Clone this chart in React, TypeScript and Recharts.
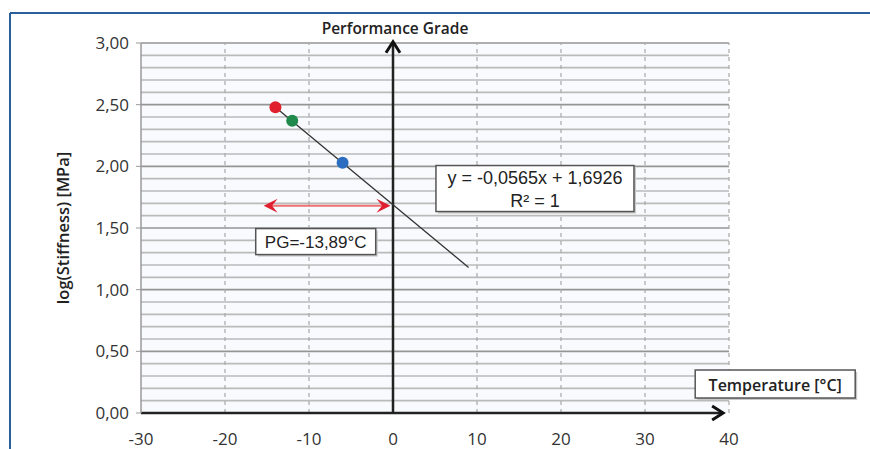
import {
  ComposedChart,
  Scatter,
  Line,
  XAxis,
  YAxis,
  CartesianGrid,
  ReferenceLine,
  ReferenceDot,
  Cell,
} from 'recharts';

// x axis: temperature [°C]
const xTicks = [-30, -20, -10, 0, 10, 20, 30, 40];
const xDashed = [-20, -10, 10, 20, 30, 40];
// y axis: log(stiffness) [MPa]
const yTicks = [0, 0.5, 1, 1.5, 2, 2.5, 3];
const yMinor = [
  0.1, 0.2, 0.3, 0.4, 0.6, 0.7, 0.8, 0.9, 1.1, 1.2, 1.3, 1.4, 1.6, 1.7, 1.8,
  1.9, 2.1, 2.2, 2.3, 2.4, 2.6, 2.7, 2.8, 2.9,
];

// measured points
const temps = [-14, -12, -6];
const logStiffness = [2.48, 2.37, 2.03];
const pointColors = ['#e0202c', '#1f8a4c', '#2a6cc0'];

// linear trend line end points
const trendX = [-14, 9];
const trendY = [2.48, 1.18];

// red double arrow (PG)
const pgArrowX = [-15.4, -0.3];
const pgArrowY = 1.68;

const points = temps.map((t, i) => ({ x: t, y: logStiffness[i] }));
const trend = trendX.map((t, i) => ({ x: t, y: trendY[i] }));

const fmt = (v: number) => v.toFixed(2).replace('.', ',');

const FONT = '"Open Sans", "Noto Sans", sans-serif';
const ARIAL = '"Liberation Sans", Arial, sans-serif';

const AxisArrow = (props: any) => {
  const { x1, y1, x2, y2 } = props;
  const ang = Math.atan2(y2 - y1, x2 - x1);
  const len = 11;
  const w = 7;
  const bx = x2 - len * Math.cos(ang);
  const by = y2 - len * Math.sin(ang);
  const px = -Math.sin(ang) * w;
  const py = Math.cos(ang) * w;
  return (
    <g>
      <line x1={x1} y1={y1} x2={x2} y2={y2} stroke='#222' strokeWidth={2.5} />
      <path
        d={`M${bx + px},${by + py} L${x2},${y2} L${bx - px},${by - py}`}
        fill='none'
        stroke='#111'
        strokeWidth={3}
        strokeLinejoin='miter'
      />
    </g>
  );
};

const RedArrow = (props: any) => {
  const { x1, y1, x2, y2 } = props;
  const head = (tx: number, ty: number, dir: number) => {
    const l = 14;
    const w = 7;
    return `M${tx},${ty} L${tx - dir * l},${ty - w} L${tx - dir * l * 0.6},${ty} L${tx - dir * l},${ty + w} Z`;
  };
  return (
    <g>
      <line x1={x1 + 6} y1={y1} x2={x2 - 6} y2={y2} stroke='#ee7070' strokeWidth={2} />
      <path d={head(x2, y2, 1)} fill='#e02030' />
      <path d={head(x1, y1, -1)} fill='#e02030' />
    </g>
  );
};

const makeBox =
  (lines: string[], w: number, h: number, size: number, weight = 400, family = FONT) =>
  (props: any) => {
    const { cx, cy } = props;
    const x = cx - w / 2;
    const y = cy - h / 2;
    const lh = h / lines.length;
    return (
      <g>
        <rect x={x + 2} y={y + 2} width={w} height={h} fill='#c8c8c8' />
        <rect x={x} y={y} width={w} height={h} fill='#fff' stroke='#555' strokeWidth={1.5} />
        {lines.map((t, i) => (
          <text
            key={i}
            x={cx}
            y={y + lh * (i + 0.5) + 1}
            textAnchor='middle'
            dominantBaseline='central'
            fontSize={size}
            fontWeight={weight}
            fontFamily={family}
            fill='#222'
          >
            {t}
          </text>
        ))}
      </g>
    );
  };

const EqBox = makeBox(['y = -0,0565x + 1,6926', 'R² = 1'], 198, 46, 18, 400, ARIAL);
const PgBox = makeBox(['PG=-13,89°C'], 120, 26, 17, 400, ARIAL);
const TempBox = makeBox(['Temperature [°C]'], 160, 28, 16, 600);

export default function App() {
  return (
    <div style={{ position: 'relative', width: 870, height: 449, background: '#fff' }}>
      <style>{'body{margin:0}'}</style>
      <svg
        width={870}
        height={449}
        style={{ position: 'absolute', left: 0, top: 0 }}
      >
        <line x1={10} y1={13} x2={870} y2={13} stroke='#2a5f9e' strokeWidth={2} />
        <line x1={10} y1={13} x2={10} y2={449} stroke='#2a5f9e' strokeWidth={2} />
        <text
          x={395}
          y={28}
          textAnchor='middle'
          dominantBaseline='central'
          fontSize={15.5}
          fontWeight={600}
          fontFamily={FONT}
          fill='#222'
        >
          Performance Grade
        </text>
      </svg>
      <div style={{ position: 'absolute', left: 0, top: 0 }}>
        <ComposedChart
          width={870}
          height={449}
          margin={{ top: 43, right: 141, bottom: 6, left: 81 }}
        >
          <CartesianGrid horizontal={false} vertical={false} fill='#f8fafd' />
          <XAxis
            type='number'
            dataKey='x'
            domain={[-30, 40]}
            ticks={xTicks}
            allowDataOverflow
            axisLine={false}
            tickLine={false}
            height={30}
            tickMargin={14}
            tick={{ fill: '#333', fontSize: 17, fontFamily: FONT }}
          />
          <YAxis
            type='number'
            dataKey='y'
            domain={[0, 3]}
            ticks={yTicks}
            width={60}
            tickFormatter={fmt}
            axisLine={{ stroke: '#9a9a9a', strokeWidth: 1.5 }}
            tickLine={{ stroke: '#9a9a9a' }}
            tickSize={5}
            tickMargin={7}
            tick={{ fill: '#333', fontSize: 17, fontFamily: FONT }}
            label={{
              content: ({ viewBox }: any) => (
                <text
                  x={62}
                  y={viewBox.y + viewBox.height / 2}
                  transform={`rotate(-90, 62, ${viewBox.y + viewBox.height / 2})`}
                  textAnchor='middle'
                  dominantBaseline='central'
                  fontSize={16.5}
                  fontWeight={600}
                  fontFamily={FONT}
                  fill='#222'
                >
                  log(Stiffness) [MPa]
                </text>
              ),
            }}
          />
          {yMinor.map((v) => (
            <ReferenceLine key={`m${v}`} y={v} stroke='#bababa' strokeWidth={1.6} />
          ))}
          {yTicks.slice(1).map((v) => (
            <ReferenceLine key={`M${v}`} y={v} stroke='#959595' strokeWidth={1.6} />
          ))}
          {xDashed.map((v) => (
            <ReferenceLine
              key={`v${v}`}
              x={v}
              stroke='#a8a8a8'
              strokeWidth={1.2}
              strokeDasharray='4 4'
            />
          ))}
          <ReferenceLine
            ifOverflow='visible'
            segment={[
              { x: -30, y: 0 },
              { x: 39.3, y: 0 },
            ]}
            shape={AxisArrow}
          />
          <ReferenceLine
            ifOverflow='visible'
            segment={[
              { x: 0, y: 0 },
              { x: 0, y: 3.01 },
            ]}
            shape={AxisArrow}
          />
          <Line
            data={trend}
            dataKey='y'
            type='linear'
            stroke='#333'
            strokeWidth={1.3}
            dot={false}
            activeDot={false}
            isAnimationActive={false}
          />
          <ReferenceLine
            ifOverflow='visible'
            segment={[
              { x: pgArrowX[0], y: pgArrowY },
              { x: pgArrowX[1], y: pgArrowY },
            ]}
            shape={RedArrow}
          />
          <Scatter
            data={points}
            dataKey='y'
            isAnimationActive={false}
            shape={(p: any) => <circle cx={p.cx} cy={p.cy} r={6} fill={p.fill} />}
          >
            {points.map((_, i) => (
              <Cell key={i} fill={pointColors[i]} />
            ))}
          </Scatter>
          <ReferenceDot x={16.9} y={1.82} ifOverflow='visible' shape={EqBox} />
          <ReferenceDot x={-9.2} y={1.39} ifOverflow='visible' shape={PgBox} />
          <ReferenceDot x={45.5} y={0.235} ifOverflow='visible' shape={TempBox} />
        </ComposedChart>
      </div>
    </div>
  );
}
